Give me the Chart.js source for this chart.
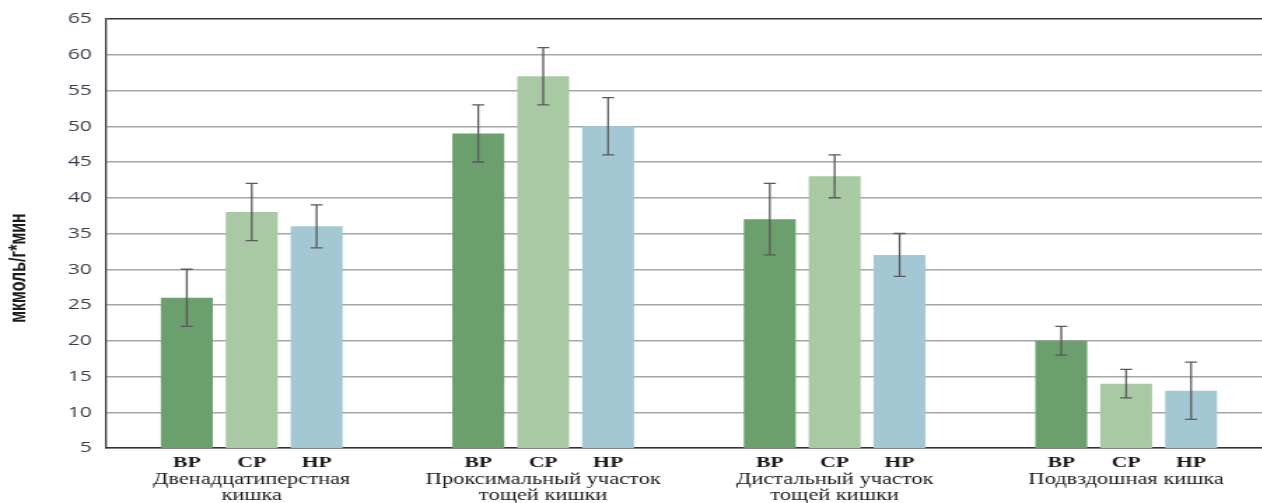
<!DOCTYPE html>
<html lang="ru">
<head>
  <meta charset="UTF-8">
  <title>мкмоль/г*мин</title>
  <script src="https://cdn.jsdelivr.net/npm/chart.js@4.4.0/dist/chart.umd.min.js"></script>
  <style>
    html, body { margin: 0; padding: 0; background: #fff; overflow: hidden; }
    /* the original figure is stretched sideways, so draw narrow and widen */
    #wrap { width: 910px; height: 503px; transform: scaleX(1.4); transform-origin: 0 0; }
  </style>
</head>
<body>
  <div id="wrap"><canvas id="chart" width="910" height="503"></canvas></div>

  <script>
    // groups on the x axis
    const groups = [
      ['Двенадцатиперстная', 'кишка'],
      ['Проксимальный участок', 'тощей кишки'],
      ['Дистальный участок', 'тощей кишки'],
      ['Подвздошная кишка']
    ];
    const seriesNames = ['ВР', 'СР', 'НР'];
    const yTitle = 'мкмоль/г*мин';

    // means and error (±) per series
    const vrValues = [26, 49, 37, 20];
    const vrErrors = [4, 4, 5, 2];
    const srValues = [38, 57, 43, 14];
    const srErrors = [4, 4, 3, 2];
    const nrValues = [36, 50, 32, 13];
    const nrErrors = [3, 4, 3, 4];

    const yTicks = [5, 10, 15, 20, 25, 30, 35, 40, 45, 50, 55, 60, 65];

    const colors = ['#6b9f6d', '#a9c9a4', '#a4c8d3'];
    const errors = [vrErrors, srErrors, nrErrors];

    // draws whiskers, the ВР/СР/НР labels under every bar and the y title
    const errorBars = {
      id: 'errorBars',
      afterDatasetsDraw(chart) {
        const c = chart.ctx;
        const y = chart.scales.y;
        c.save();
        chart.data.datasets.forEach((ds, di) => {
          const meta = chart.getDatasetMeta(di);
          meta.data.forEach((bar, i) => {
            const v = ds.data[i];
            const e = errors[di][i];
            const top = y.getPixelForValue(v + e);
            const bot = y.getPixelForValue(v - e);
            c.strokeStyle = '#5a5a5a';
            c.lineWidth = 1.3;
            c.beginPath();
            c.moveTo(bar.x, top); c.lineTo(bar.x, bot);
            c.moveTo(bar.x - 4.3, top); c.lineTo(bar.x + 4.3, top);
            c.moveTo(bar.x - 4.3, bot); c.lineTo(bar.x + 4.3, bot);
            c.stroke();

            c.fillStyle = '#1a1a1a';
            c.font = 'bold 15.5px "Liberation Serif"';
            c.textAlign = 'center';
            c.textBaseline = 'middle';
            c.fillText(seriesNames[di], bar.x, chart.chartArea.bottom + 15);
          });
        });

        // axis title sits lower than the middle of the axis in the original
        c.translate(13.6, 268);
        c.rotate(-Math.PI / 2);
        c.fillStyle = '#1a1a1a';
        c.font = 'bold 16px "Liberation Sans"';
        c.textAlign = 'center';
        c.textBaseline = 'middle';
        c.fillText(yTitle, 0, 0);
        c.restore();
      }
    };

    const ctx = document.getElementById('chart').getContext('2d');
    new Chart(ctx, {
      type: 'bar',
      data: {
        labels: groups,
        datasets: [
          { label: seriesNames[0], data: vrValues, backgroundColor: colors[0] },
          { label: seriesNames[1], data: srValues, backgroundColor: colors[1] },
          { label: seriesNames[2], data: nrValues, backgroundColor: colors[2] }
        ]
      },
      options: {
        responsive: false,
        animation: false,
        categoryPercentage: 0.668,
        barPercentage: 0.8,
        layout: { padding: { top: 14, right: 1.5, left: 0, bottom: 0 } },
        plugins: {
          legend: { display: false },
          tooltip: { enabled: false }
        },
        scales: {
          x: {
            afterFit(axis) { axis.height = 55; },
            grid: { display: false, drawTicks: false },
            border: { display: true, color: '#333', width: 1.5 },
            ticks: {
              padding: 24,
              color: '#1a1a1a',
              maxRotation: 0,
              autoSkip: false,
              font: { family: '"Liberation Serif"', size: 16, lineHeight: 1.0 }
            }
          },
          y: {
            min: 5,
            max: 65,
            afterBuildTicks(axis) { axis.ticks = yTicks.map(v => ({ value: v })); },
            afterFit(axis) { axis.width = 75.7; },
            grid: {
              drawTicks: false,
              color: c => c.tick && c.tick.value === 65 ? '#333' : '#a6a6a6',
              lineWidth: 1.5
            },
            border: { display: true, color: '#333', width: 1.3 },
            ticks: {
              padding: 10,
              color: '#3b3b4b',
              font: { family: '"Open Sans"', size: 15 }
            }
          }
        }
      },
      plugins: [errorBars]
    });
  </script>
</body>
</html>
